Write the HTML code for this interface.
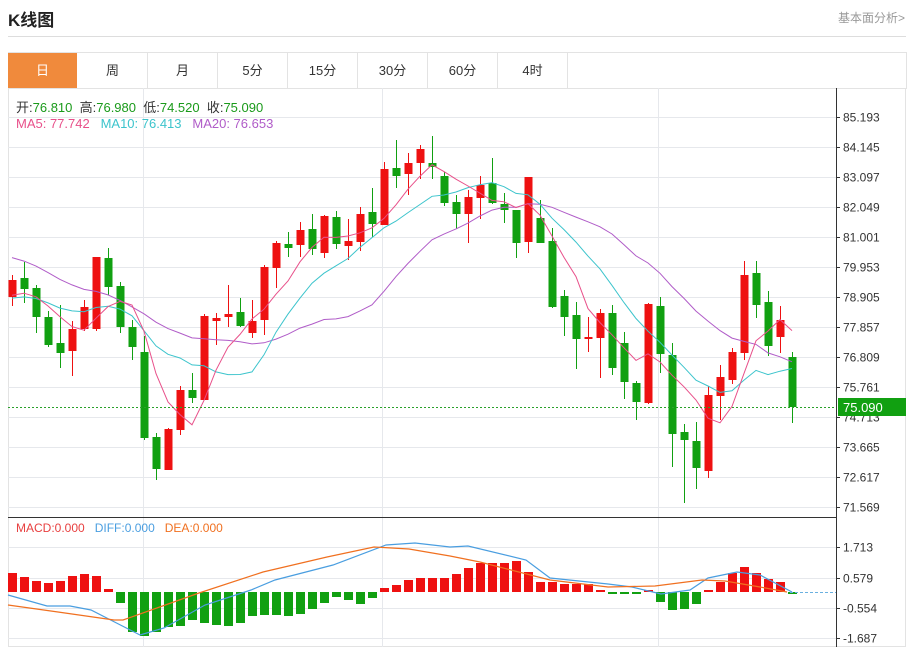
<!DOCTYPE html>
<html><head><meta charset="utf-8">
<style>
body{margin:0;background:#fff;width:912px;height:647px;overflow:hidden;font-family:"Liberation Sans","Noto Sans CJK SC",sans-serif;}
.t{position:absolute;white-space:nowrap;}
</style></head><body>
<div class="t" style="left:8px;top:6px;font-size:17px;font-weight:bold;color:#222;">K线图</div>
<div class="t" style="left:838px;top:9px;font-size:12px;color:#999;">基本面分析&gt;</div>
<div style="position:absolute;left:8px;top:36px;width:898px;height:1px;background:#ddd;"></div>
<div style="position:absolute;left:8px;top:52px;width:897px;height:36px;border:1px solid #e3e3e3;border-bottom:none;"></div>
<div id="tabs"></div>
<svg id="s" width="912" height="647" style="position:absolute;left:0;top:0;"></svg>
<div class="t" style="left:16px;top:97px;font-size:13px;color:#333;">开:<span style="color:#1a9a1a">76.810</span>&nbsp;&nbsp;高:<span style="color:#1a9a1a">76.980</span>&nbsp;&nbsp;低:<span style="color:#1a9a1a">74.520</span>&nbsp;&nbsp;收:<span style="color:#1a9a1a">75.090</span></div>
<div class="t" style="left:16px;top:116px;font-size:13px;"><span style="color:#e8508a">MA5: 77.742</span>&nbsp;&nbsp;&nbsp;<span style="color:#3cc4cc">MA10: 76.413</span>&nbsp;&nbsp;&nbsp;<span style="color:#b05cc8">MA20: 76.653</span></div>
<div class="t" style="left:16px;top:521px;font-size:12px;"><span style="color:#e84040">MACD:0.000</span>&nbsp;&nbsp;&nbsp;<span style="color:#4a9ee0">DIFF:0.000</span>&nbsp;&nbsp;&nbsp;<span style="color:#f07020">DEA:0.000</span></div>
<script>
var tabs=["日","周","月","5分","15分","30分","60分","4时"],h="";
for(var i=0;i<8;i++){var l=8+i*70;h+='<div class="t" style="left:'+l+'px;top:53px;width:69px;height:35px;line-height:35px;text-align:center;font-size:13px;'+(i==0?'background:#f08a3c;color:#fff;':'color:#333;border-right:1px solid #e3e3e3;')+'">'+tabs[i]+'</div>';}
document.getElementById("tabs").innerHTML=h;
var S="";
function L(x1,y1,x2,y2,c,w,d){S+='<line x1="'+x1+'" y1="'+y1+'" x2="'+x2+'" y2="'+y2+'" stroke="'+c+'" stroke-width="'+(w||1)+'"'+(d?' stroke-dasharray="'+d+'"':'')+'/>';}
// frame
S+='<rect x="8.5" y="88.5" width="897" height="558" fill="none" stroke="#e3e3e3"/>';
var labs=["85.193","84.145","83.097","82.049","81.001","79.953","78.905","77.857","76.809","75.761","74.713","73.665","72.617","71.569"];
for(var i=0;i<14;i++){var y=117+i*30+0.5;L(8,y,836,y,"#e6e8ec");L(836,y,840,y,"#333");S+='<text x="843" y="'+(y+4)+'" font-size="12" fill="#333" font-family="Liberation Sans">'+labs[i]+'</text>';}
[143.5,382.5,658.5].forEach(function(x){L(x,88,x,647,"#e6e8ec");});
var ml=[["1.713",547.5],["0.579",578.5],["-0.554",608.5],["-1.687",638.5]];
ml.forEach(function(m){L(8,m[1],836,m[1],"#e6e8ec");L(836,m[1],840,m[1],"#333");S+='<text x="843" y="'+(m[1]+4)+'" font-size="12" fill="#333" font-family="Liberation Sans">'+m[0]+'</text>';});
L(836.5,88,836.5,647,"#333");L(8,517.5,836,517.5,"#333");
// candles: [color, bodyTop, bodyBot, high, low]
var C=[["r",280,297,275,306],["g",278,289,262,303],["g",288,317,285,333],["g",317,345,311,347],["g",343,353,305,368],["r",329,351,321,376],["r",307,329,300,331],["r",257,329,257,331],["g",258,287,248,295],["g",286,327,282,333],["g",327,347,320,360],["g",352,438,336,440],["g",437,469,433,480],["r",429,470,428,470],["r",390,430,386,435],["g",390,398,373,403],["r",316,400,314,400],["r",318,321,313,345],["r",314,317,285,327],["g",312,326,298,327],["r",321,333,300,338],["r",267,320,265,335],["r",243,268,241,288],["g",244,248,232,257],["r",230,245,222,257],["g",229,249,214,255],["r",216,253,215,258],["g",217,244,211,249],["r",241,246,219,260],["r",214,242,207,251],["g",212,224,188,237],["r",169,225,162,225],["g",168,176,140,188],["r",163,174,153,195],["r",149,163,145,179],["g",163,167,136,179],["g",176,203,172,206],["g",202,214,195,229],["r",197,214,190,243],["r",185,198,176,219],["g",183,203,158,204],["g",204,210,193,223],["g",210,243,210,258],["r",177,242,177,253],["g",218,243,200,243],["g",241,307,228,308],["g",296,317,290,336],["g",315,339,302,369],["r",337,339,317,352],["r",313,338,309,378],["g",313,368,305,375],["g",343,382,332,399],["g",383,402,381,420],["r",304,403,303,404],["g",306,354,297,373],["g",355,434,343,467],["g",432,440,424,503],["g",441,468,422,489],["r",395,471,386,478],["r",377,396,365,420],["r",352,380,348,384],["r",275,353,261,360],["g",273,305,261,318],["g",302,346,291,356],["r",320,337,306,353],["g",357,407,352,423]];
var closes=[];
for(var i=0;i<19;i++)closes.push(i<10?217:(i<15?301:299));
C.forEach(function(c,i){var x=12+i*12;var col=c[0]=="r"?"#ee1111":"#11a011";
L(x+0.5,c[3],x+0.5,c[4],col);S+='<rect x="'+(x-3.5)+'" y="'+c[1]+'" width="8" height="'+Math.max(2,c[2]-c[1])+'" fill="'+col+'"/>';
closes.push(c[0]=="r"?c[1]:c[2]);});
function ma(n,col){var p="";for(var i=0;i<C.length;i++){var k=i+19,s=0;for(var j=0;j<n;j++)s+=closes[k-j];var x=12+i*12;p+=(i?" L":"M")+x+","+(s/n).toFixed(1);}S+='<path d="'+p+'" fill="none" stroke="'+col+'" stroke-width="1"/>';}
ma(20,"#b05cc8");ma(10,"#3cc4cc");ma(5,"#e8508a");
L(8,407.5,836,407.5,"#2aa02a",1,"2,2");
S+='<rect x="838" y="398" width="68" height="18" fill="#11a011"/><text x="843" y="412" font-size="13" fill="#fff" font-family="Liberation Sans">75.090</text>';
// MACD bars
var B=[573,577,581,583,581,576,574,576,589,603,632,636,632,627,626,620,623,625,626,623,616,615,615,616,614,609,603,597,600,604,598,588,585,580,578,578,578,574,568,563,563,563,561,572,582,582,584,584,584,590,594,594,593,590,602,610,609,604,590,582,573,567,573,579,582,592];
B.forEach(function(y,i){var x=12+i*12;var col=y<592?"#ee1111":"#11a011";var t=Math.min(y,592),hh=Math.abs(y-592);if(hh<2)hh=2;S+='<rect x="'+(x-4)+'" y="'+t+'" width="9" height="'+hh+'" fill="'+col+'"/>';});
L(790,592.5,836,592.5,"#6ab0e0",1,"3,2");
function pl(a,col){S+='<polyline points="'+a.join(" ")+'" fill="none" stroke="'+col+'" stroke-width="1.2"/>';}
pl(["8,595","47,606","70,606","91,610","140,635","164,628","205,605","251,590","275,580","333,565","386,545","415,543","450,547","468,546","526,560","550,578","608,584","632,587","661,594","690,590","708,578","737,572","760,575","792,592"],"#4a9ee0");
pl(["8,605","58,612","114,620","123,620","199,593","263,572","327,557","374,547","409,549","450,556","480,562","550,580","608,587","655,586","702,580","725,581","760,587","787,592"],"#f07020");
document.getElementById("s").innerHTML=S;
</script>
</body></html>
